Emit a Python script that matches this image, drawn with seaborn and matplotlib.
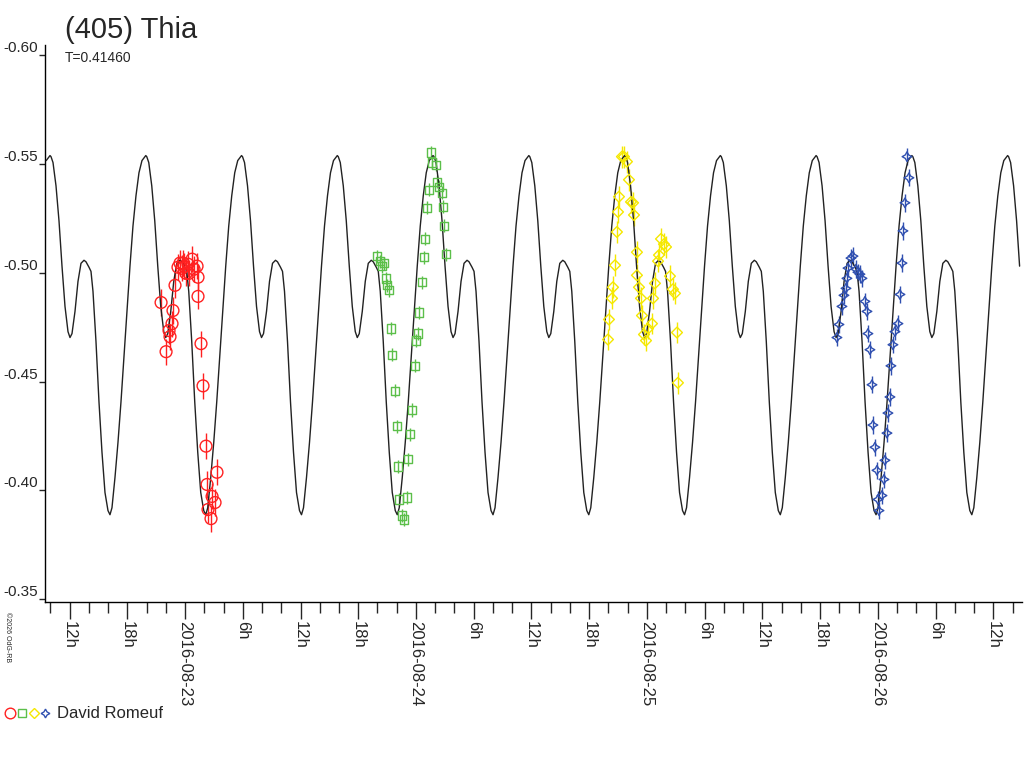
import numpy as np
import pandas as pd
import matplotlib
matplotlib.use("Agg")
import matplotlib.pyplot as plt
import seaborn as sns
from matplotlib.ticker import FixedLocator

sns.set_theme(style="white")
plt.rcParams['font.family'] = ['Liberation Sans', 'DejaVu Sans']

# time in hours from 2016-08-23 00:00, magnitudes
period_h = 0.41460 * 24
epoch_h = -14.03          # a maximum of the model curve
t_start, t_end = -14.55, 86.97

# one period of the model curve (phase, mag)
curve_phase = [0, 1, 3, 6, 9, 12, 15, 18, 20, 22, 25, 28, 31, 34, 36, 39, 41, 43,
               46, 49, 52, 55, 58, 60, 62, 65, 68, 71, 74, 77, 80, 83, 86, 89, 92, 95.8]
curve_mag = [-0.5538, -0.5533, -0.5506, -0.5399, -0.5238, -0.5030, -0.4845, -0.4729,
             -0.4702, -0.4720, -0.4822, -0.4960, -0.5043, -0.5057, -0.5050, -0.5025,
             -0.5006, -0.4914, -0.4683, -0.4406, -0.4175, -0.3990, -0.3907, -0.3888,
             -0.3920, -0.4059, -0.4220, -0.4406, -0.4614, -0.4822, -0.5030, -0.5214,
             -0.5353, -0.5459, -0.5515, -0.5538]

red_t = [-2.49, -1.97, -1.66, -1.56, -1.35, -1.25, -1.04, -0.73, -0.52, -0.31, -0.21, -0.10,
         0.10, 0.31, 0.42, 0.73, 0.94, 1.25, 1.35, 1.35, 1.66, 1.87, 2.18, 2.29, 2.39,
         2.70, 2.81, 3.12, 3.32]
red_m = [-0.4863, -0.4637, -0.4734, -0.4706, -0.4766, -0.4826, -0.4942, -0.5025, -0.5044,
         -0.5020, -0.5044, -0.5030, -0.4997, -0.5039, -0.4997, -0.5062, -0.5016, -0.5030,
         -0.4979, -0.4891, -0.4674, -0.4480, -0.4203, -0.4027, -0.3912, -0.3870, -0.3972,
         -0.3944, -0.4083]

green_t = [19.95, 20.26, 20.47, 20.68, 20.88, 20.99, 21.20, 21.40, 21.51, 21.82, 22.03,
           22.13, 22.23, 22.55, 22.75, 23.07, 23.17, 23.38, 23.59, 23.90, 24.00, 24.21,
           24.31, 24.62, 24.83, 24.94, 25.14, 25.35, 25.56, 25.66, 26.08, 26.18, 26.39,
           26.70, 26.81, 26.91, 27.12]
green_m = [-0.5076, -0.5053, -0.5030, -0.5044, -0.4974, -0.4942, -0.4919, -0.4743, -0.4623,
           -0.4457, -0.4295, -0.4110, -0.3958, -0.3884, -0.3866, -0.3967, -0.4143, -0.4258,
           -0.4369, -0.4572, -0.4688, -0.4720, -0.4817, -0.4956, -0.5071, -0.5155, -0.5298,
           -0.5381, -0.5552, -0.5506, -0.5496, -0.5418, -0.5395, -0.5367, -0.5302, -0.5215,
           -0.5085]

yellow_t = [43.95, 44.05, 44.37, 44.47, 44.68, 44.88, 44.99, 45.09, 45.40, 45.61, 45.92,
            46.13, 46.34, 46.55, 46.65, 46.96, 46.96, 47.17, 47.38, 47.48, 47.69, 47.90,
            48.11, 48.52, 48.63, 48.83, 49.15, 49.25, 49.46, 49.77, 49.98, 50.39, 50.70,
            50.91, 51.12, 51.22]
yellow_m = [-0.4693, -0.4785, -0.4882, -0.4933, -0.5034, -0.5187, -0.5279, -0.5349, -0.5533,
            -0.5533, -0.5510, -0.5427, -0.5325, -0.5321, -0.5265, -0.5094, -0.4988, -0.4933,
            -0.4882, -0.4803, -0.4716, -0.4688, -0.4743, -0.4766, -0.4882, -0.4951, -0.5053,
            -0.5081, -0.5155, -0.5131, -0.5118, -0.4984, -0.4924, -0.4905, -0.4725, -0.4494]

blue_t = [67.74, 67.95, 68.26, 68.47, 68.68, 68.78, 68.89, 69.20, 69.41, 69.72, 69.92, 70.13,
          70.34, 70.65, 70.86, 70.96, 71.17, 71.38, 71.48, 71.69, 71.90, 72.00, 72.11, 72.42,
          72.63, 72.73, 72.94, 73.04, 73.25, 73.35, 73.56, 73.77, 74.08, 74.29, 74.50, 74.60,
          74.81, 75.02, 75.22]
blue_m = [-0.4702, -0.4762, -0.4845, -0.4896, -0.4928, -0.4974, -0.5021, -0.5067, -0.5076,
          -0.5016, -0.5002, -0.4993, -0.4974, -0.4868, -0.4822, -0.4720, -0.4646, -0.4485,
          -0.4300, -0.4198, -0.4092, -0.3958, -0.3907, -0.3976, -0.4050, -0.4138, -0.4263,
          -0.4355, -0.4429, -0.4572, -0.4669, -0.4729, -0.4766, -0.4900, -0.5044, -0.5192,
          -0.5321, -0.5533, -0.5436]

major_h = list(range(-12, 85, 6))
major_labels = ["12h", "18h", "2016-08-23", "6h", "12h", "18h", "2016-08-24", "6h", "12h",
                "18h", "2016-08-25", "6h", "12h", "18h", "2016-08-26", "6h", "12h"]

# tile the model curve over the time range
ph = np.array(curve_phase) / 95.8
rows = []
for k in range(-1, 12):
    for p, m in zip(ph, curve_mag):
        t = epoch_h + (k + p) * period_h
        if t_start <= t <= t_end:
            rows.append((t, m))
curve = pd.DataFrame(rows, columns=["t", "mag"]).drop_duplicates("t")

fig = plt.figure(figsize=(10.24, 7.68), dpi=100)
ax = fig.add_axes([45 / 1024, 1 - 602 / 768, 977 / 1024, 557 / 768])

ax.plot(curve["t"], curve["mag"], color="#222222", lw=1.0, zorder=3)

series = [
    (red_t, red_m, "#ff2020", "o", 8.5, 0.006),
    (green_t, green_m, "#5cbf4a", "s", 6, 0.003),
    (yellow_t, yellow_m, "#f5e800", "D", 5.5, 0.005),
    (blue_t, blue_m, "#3050b0", (4, 1, 0), 7, 0.004),
]
for t, m, c, mk, ms, err in series:
    ax.errorbar(t, m, yerr=err, fmt="none", ecolor=c, elinewidth=1, zorder=2)
    df = pd.DataFrame({"t": t, "mag": m})
    sns.scatterplot(data=df, x="t", y="mag", ax=ax, marker=mk, s=ms ** 2,
                    facecolors="none", edgecolor=c, linewidth=1, zorder=4)

ax.set_xlim(t_start, t_end)
ax.set_ylim(-0.3487, -0.6046)
ax.set_xlabel("")
ax.set_ylabel("")
for s in ["top", "right"]:
    ax.spines[s].set_visible(False)
for s in ["left", "bottom"]:
    ax.spines[s].set_color("black")
    ax.spines[s].set_linewidth(1)

ax.set_xticks(major_h)
ax.set_xticklabels(major_labels, rotation=-90, fontsize=12)
ax.xaxis.set_minor_locator(FixedLocator(np.arange(-14, 87, 2)))
ax.tick_params(axis="x", which="major", direction="out", length=12, width=1, pad=2)
ax.tick_params(axis="x", which="minor", direction="out", length=8, width=1)
ax.tick_params(axis="x", which="both", bottom=True)

yt = [-0.60, -0.55, -0.50, -0.45, -0.40, -0.35]
ax.set_yticks(yt)
ax.set_yticklabels([f"{v:.2f}" for v in yt], fontsize=11)
ax.tick_params(axis="y", direction="out", length=4, width=1, left=True, pad=1)
for lbl in ax.get_yticklabels():
    lbl.set_verticalalignment("bottom")
ax.grid(False)

fig.text(65 / 1024, 1 - 30 / 768, "(405) Thia", fontsize=21, va="center")
fig.text(65 / 1024, 1 - 58 / 768, "T=0.41460", fontsize=10, va="center")
fig.text(4 / 1024, 1 - 612 / 768, "\u00a92026 OdG-RB", fontsize=5, rotation=-90, va="top")

# legend line at bottom
lx = [10, 22, 34, 45]
for x, (t, m, c, mk, ms, err) in zip(lx, series):
    fig.lines.append(matplotlib.lines.Line2D([x / 1024], [1 - 713 / 768], marker=mk,
                     markersize=ms * 0.9, markerfacecolor="none", markeredgecolor=c,
                     transform=fig.transFigure))
fig.text(57 / 1024, 1 - 713 / 768, "David Romeuf", fontsize=12, va="center")

fig.savefig("out.png", dpi=100)
